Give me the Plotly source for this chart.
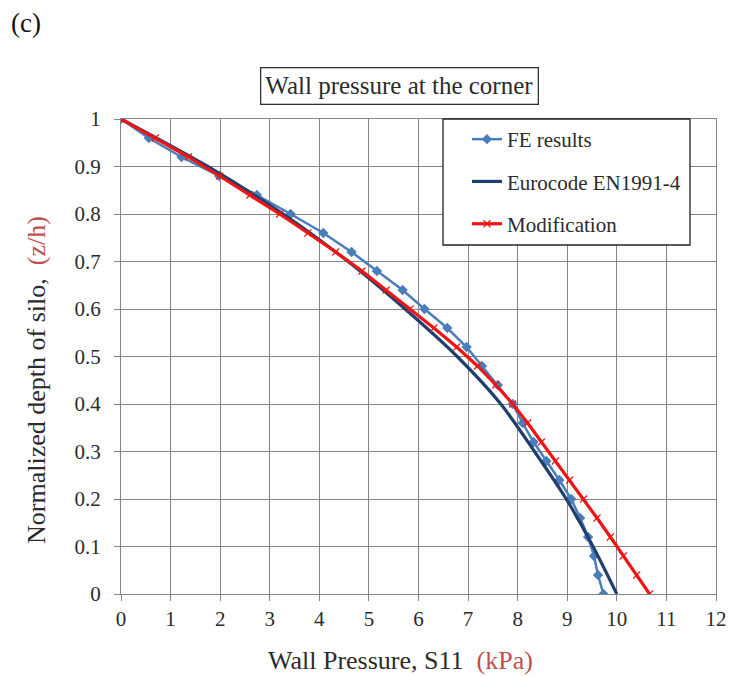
import plotly.graph_objects as go

# Normalized depth (z/h) sampled along the wall
depth_fe = [1.00, 0.96, 0.92, 0.88, 0.84, 0.80, 0.76, 0.72, 0.68, 0.64, 0.60, 0.56, 0.52,
            0.48, 0.44, 0.40, 0.36, 0.32, 0.28, 0.24, 0.20, 0.16, 0.12, 0.08, 0.04, 0.00]
pressure_fe = [0.00, 0.56, 1.22, 1.98, 2.74, 3.42, 4.08, 4.65, 5.16, 5.68, 6.12, 6.58, 6.97,
               7.28, 7.60, 7.90, 8.10, 8.32, 8.58, 8.84, 9.08, 9.26, 9.42, 9.54, 9.62, 9.73]

depth_ec = [1.0, 0.9, 0.8, 0.7, 0.6, 0.5, 0.4, 0.3, 0.2, 0.1, 0.0]
pressure_ec = [0.00, 1.75, 3.27, 4.58, 5.73, 6.78, 7.66, 8.34, 8.98, 9.52, 10.00]

depth_mod = depth_fe
pressure_mod = [0.00, 0.69, 1.36, 1.99, 2.60, 3.20, 3.77, 4.33, 4.86, 5.35, 5.83, 6.31, 6.77,
                7.19, 7.56, 7.90, 8.20, 8.48, 8.76, 9.05, 9.33, 9.60, 9.87, 10.13, 10.40, 10.66]

x_ticks = list(range(0, 13))
y_ticks = [0, 0.1, 0.2, 0.3, 0.4, 0.5, 0.6, 0.7, 0.8, 0.9, 1]

SERIF = "Liberation Serif"
TEXT = "#2b2b2b"
GRID = "#858585"
ACCENT = "#C0504D"

# plot area in pixels
L, R, T, B = 121, 716, 119, 594
W, H = 730, 676


def px(xp):
    return (xp - L) / (R - L)


def py(yp):
    return (B - yp) / (B - T)


fig = go.Figure()

fig.add_trace(go.Scatter(
    x=pressure_fe, y=depth_fe, name="FE results", legendgroup="fe",
    mode="lines+markers",
    line=dict(color="#4A7EBB", width=2.5),
    marker=dict(symbol="diamond", size=8, color="#4A7EBB"),
))
fig.add_trace(go.Scatter(
    x=pressure_ec, y=depth_ec, name="Eurocode EN1991-4", legendgroup="ec",
    mode="lines",
    line=dict(color="#1F3F6E", width=3.2, shape="spline", smoothing=0.8),
))
fig.add_trace(go.Scatter(
    x=pressure_mod, y=depth_mod, name="Modification", legendgroup="mod",
    mode="lines+markers",
    line=dict(color="#F01414", width=3.2),
    marker=dict(symbol="x-thin", size=7, line=dict(color="#F01414", width=1.2)),
))

axis_common = dict(
    showgrid=True, gridcolor=GRID, gridwidth=1.3,
    showline=True, linecolor=GRID, linewidth=1.3, mirror=True,
    ticks="outside", ticklen=6, tickcolor=GRID,
    tickfont=dict(family=SERIF, size=21, color=TEXT),
    zeroline=False,
)

fig.update_xaxes(range=[0, 12], tickvals=x_ticks, ticklabelstandoff=0, **axis_common)
fig.update_yaxes(range=[0, 1], tickvals=y_ticks, ticktext=[str(v) for v in y_ticks],
                 ticklabelstandoff=9, **axis_common)

# axis titles
fig.add_annotation(
    text=f"Wall Pressure, S11  <span style='color:{ACCENT}'>(kPa)</span>",
    xref="paper", yref="paper", x=px(400), y=py(660), xanchor="center", yanchor="middle",
    showarrow=False, font=dict(family=SERIF, size=26, color=TEXT),
)
fig.add_annotation(
    text=f"Normalized depth of silo,  <span style='color:{ACCENT}'>(z/h)</span>",
    xref="paper", yref="paper", x=px(36), y=py(380), xanchor="center", yanchor="middle",
    textangle=-90, showarrow=False, font=dict(family=SERIF, size=26, color=TEXT),
)

# chart title in a framed box
fig.add_annotation(
    text="Wall pressure at the corner", xref="paper", yref="paper",
    x=px(399), y=py(86), xanchor="center", yanchor="middle",
    showarrow=False, font=dict(family=SERIF, size=25, color=TEXT),
    bordercolor="#333333", borderwidth=1.3, borderpad=4, bgcolor="white",
)
fig.add_annotation(
    text="(c)", xref="paper", yref="paper",
    x=px(9), y=py(23), xanchor="left", yanchor="middle",
    showarrow=False, font=dict(family=SERIF, size=27, color="#111111"),
)

# legend frame
fig.add_shape(
    type="rect", xref="paper", yref="paper",
    x0=px(443), x1=px(690), y0=py(245), y1=py(119),
    line=dict(color="#222222", width=1.3), fillcolor="white", layer="above",
)

fig.update_layout(
    width=W, height=H,
    margin=dict(l=L, r=W - R, t=T, b=H - B, autoexpand=False),
    paper_bgcolor="white", plot_bgcolor="white",
    legend=dict(
        x=px(467), y=py(119), xanchor="left", yanchor="top",
        bgcolor="rgba(0,0,0,0)", borderwidth=0,
        font=dict(family=SERIF, size=21, color=TEXT),
        traceorder="grouped", tracegroupgap=12,
        itemwidth=30,
    ),
)

fig.write_html("out.html")
